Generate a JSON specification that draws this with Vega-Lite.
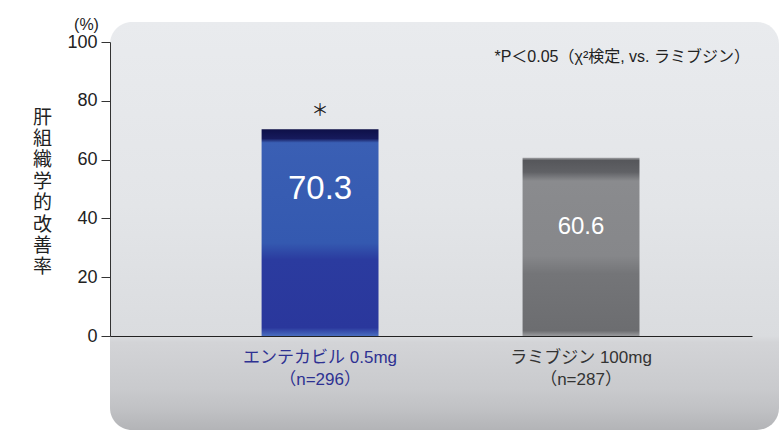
{
  "$schema": "https://vega.github.io/schema/vega-lite/v6.json",
  "width": 669,
  "height": 408,
  "autosize": {"type": "none"},
  "padding": {"left": 110, "top": 22, "right": 0, "bottom": 12},
  "background": "white",
  "config": {
    "font": "Liberation Sans, Noto Sans CJK JP, sans-serif",
    "view": {
      "stroke": null,
      "cornerRadius": 22,
      "fill": {
        "gradient": "linear", "x1": 0, "y1": 0, "x2": 0, "y2": 1,
        "stops": [
          {"offset": 0, "color": "#e9ebee"},
          {"offset": 0.45, "color": "#e3e5e8"},
          {"offset": 0.77, "color": "#dadcdf"},
          {"offset": 0.785, "color": "#d3d4d7"},
          {"offset": 0.9, "color": "#c9cacd"},
          {"offset": 0.95, "color": "#c0c1c4"},
          {"offset": 1, "color": "#b3b4b7"}
        ]
      }
    }
  },
  "title": {
    "text": "*P＜0.05（χ²検定, vs. ラミブジン）",
    "anchor": "end",
    "frame": "group",
    "orient": "top",
    "offset": 0,
    "baseline": "middle",
    "dy": 57,
    "dx": -29,
    "fontSize": 16,
    "fontWeight": "normal",
    "color": "#222222"
  },
  "data": {
    "values": [
      {"group": "エンテカビル 0.5mg\n（n=296）", "drug": "entecavir", "rate": 70.3, "sig": "＊"},
      {"group": "ラミブジン 100mg\n（n=287）", "drug": "lamivudine", "rate": 60.6, "sig": ""}
    ]
  },
  "encoding": {
    "x": {
      "field": "group",
      "type": "nominal",
      "sort": null,
      "scale": {"range": [0, 642], "paddingInner": 0.552, "paddingOuter": 0.506, "align": 0.574},
      "axis": {
        "orient": "bottom",
        "offset": -94,
        "domain": true,
        "domainColor": "#222222",
        "domainWidth": 1,
        "ticks": false,
        "labelAngle": 0,
        "labelPadding": 13,
        "labelFontSize": 17,
        "labelLineHeight": 22,
        "labelBaseline": "top",
        "labelExpr": "split(datum.value, '\\n')",
        "labelColor": {"condition": {"test": "indexof(datum.value, 'エンテカビル') >= 0", "value": "#2e3192"}, "value": "#333333"},
        "title": ["肝", "組", "織", "学", "的", "改", "善", "率"],
        "titleAngle": 0,
        "titleX": -68,
        "titleY": -228,
        "titleAlign": "center",
        "titleBaseline": "top",
        "titleFontSize": 19,
        "titleLineHeight": 21.4,
        "titleFontWeight": "normal",
        "titleColor": "#222222"
      }
    },
    "y": {
      "field": "rate",
      "type": "quantitative",
      "scale": {"domain": [0, 100], "range": [314, 20], "nice": false},
      "axis": {
        "values": [0, 20, 40, 60, 80, 100],
        "grid": false,
        "domain": true,
        "domainColor": "#333333",
        "tickColor": "#333333",
        "tickSize": 9,
        "labelPadding": 4,
        "labelFontSize": 18,
        "labelColor": "#222222",
        "title": "(%)",
        "titleAngle": 0,
        "titleX": -24,
        "titleY": 2,
        "titleAlign": "center",
        "titleBaseline": "middle",
        "titleFontSize": 16,
        "titleFontWeight": "normal",
        "titleColor": "#222222"
      }
    }
  },
  "layer": [
    {
      "transform": [{"filter": "datum.drug === 'entecavir'"}],
      "mark": {
        "type": "bar",
        "fill": {
          "gradient": "linear", "x1": 0, "y1": 0, "x2": 0, "y2": 1,
          "stops": [
            {"offset": 0, "color": "#0e1048"},
            {"offset": 0.045, "color": "#161a5c"},
            {"offset": 0.065, "color": "#3a5fb4"},
            {"offset": 0.55, "color": "#3459b0"},
            {"offset": 0.63, "color": "#2b3b9f"},
            {"offset": 0.96, "color": "#2a379c"},
            {"offset": 1, "color": "#4a6ec0"}
          ]
        }
      }
    },
    {
      "transform": [{"filter": "datum.drug === 'lamivudine'"}],
      "mark": {
        "type": "bar",
        "fill": {
          "gradient": "linear", "x1": 0, "y1": 0, "x2": 0, "y2": 1,
          "stops": [
            {"offset": 0, "color": "#a0a1a4"},
            {"offset": 0.015, "color": "#56575b"},
            {"offset": 0.08, "color": "#606165"},
            {"offset": 0.13, "color": "#8a8b8e"},
            {"offset": 0.55, "color": "#86878a"},
            {"offset": 0.65, "color": "#747578"},
            {"offset": 0.97, "color": "#6c6d70"},
            {"offset": 1, "color": "#9a9b9e"}
          ]
        }
      }
    },
    {
      "transform": [{"filter": "datum.drug === 'entecavir'"}],
      "mark": {"type": "text", "color": "white", "fontSize": 33, "baseline": "middle", "dy": 60},
      "encoding": {"text": {"field": "rate", "type": "quantitative", "format": ".1f"}}
    },
    {
      "transform": [{"filter": "datum.drug === 'lamivudine'"}],
      "mark": {"type": "text", "color": "white", "fontSize": 24, "baseline": "middle", "dy": 69},
      "encoding": {"text": {"field": "rate", "type": "quantitative", "format": ".1f"}}
    },
    {
      "mark": {"type": "text", "color": "#222222", "fontSize": 17, "font": "Noto Sans CJK JP", "baseline": "middle", "dy": -18},
      "encoding": {"text": {"field": "sig", "type": "nominal"}}
    }
  ]
}
